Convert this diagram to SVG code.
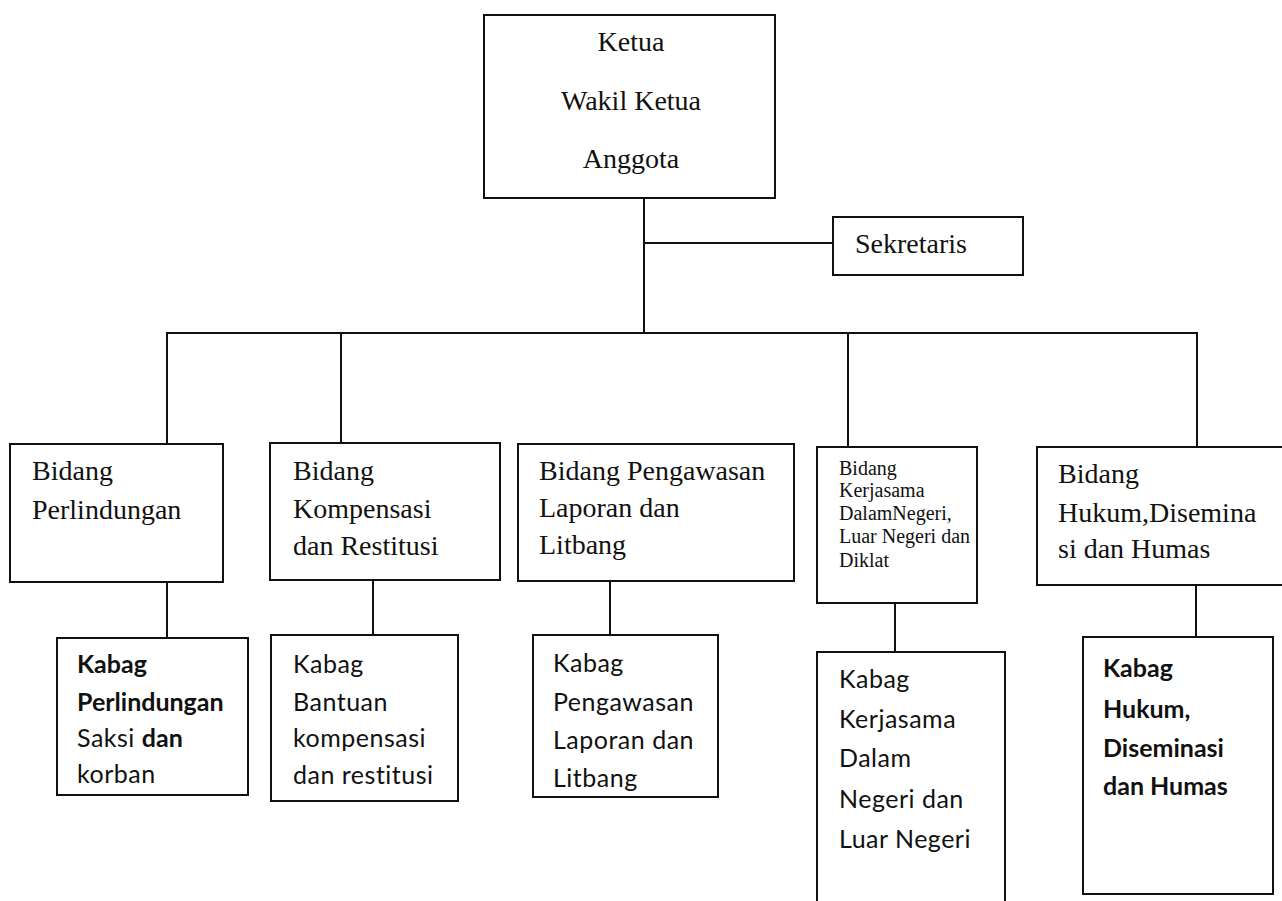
<svg xmlns="http://www.w3.org/2000/svg" width="1282" height="901" viewBox="0 0 1282 901">
<style>
.box{fill:none;stroke:#111;stroke-width:2}
.ln{fill:none;stroke:#111;stroke-width:2}
.t{font-family:"Liberation Serif","Times New Roman",serif;font-size:28px;fill:#111}
.ts{font-family:"Liberation Serif","Times New Roman",serif;font-size:20px;fill:#111}
.k{font-family:Lato,"Open Sans",sans-serif;font-size:25px;letter-spacing:0.5px;fill:#111}
.b{font-weight:bold;letter-spacing:0}
</style>
<rect width="1282" height="901" fill="#fff"/>
<g id="connectors">
<path class="ln" d="M644 198 V333"/>
<path class="ln" d="M644 243 H833"/>
<path class="ln" d="M167 445 V333 H1197 V447"/>
<path class="ln" d="M341 333 V443"/>
<path class="ln" d="M848 333 V447"/>
<path class="ln" d="M167 582 V638"/>
<path class="ln" d="M373 580 V635"/>
<path class="ln" d="M610 581 V635"/>
<path class="ln" d="M895 603 V652"/>
<path class="ln" d="M1196 585 V637"/>
</g>
<g id="ketua">
<rect class="box" x="484" y="15" width="291" height="183"/>
<text class="t" x="631" y="51" text-anchor="middle">Ketua</text>
<text class="t" x="631" y="110" text-anchor="middle">Wakil Ketua</text>
<text class="t" x="631" y="168" text-anchor="middle">Anggota</text>
</g>
<g id="sekretaris">
<rect class="box" x="833" y="217" width="190" height="58"/>
<text class="t" x="855" y="253">Sekretaris</text>
</g>
<g id="bidang-perlindungan">
<rect class="box" x="10" y="444" width="213" height="138"/>
<text class="t" x="32" y="480">Bidang</text>
<text class="t" x="32" y="519">Perlindungan</text>
</g>
<g id="bidang-kompensasi">
<rect class="box" x="270" y="443" width="230" height="137"/>
<text class="t" x="293" y="480">Bidang</text>
<text class="t" x="293" y="518">Kompensasi</text>
<text class="t" x="293" y="555">dan Restitusi</text>
</g>
<g id="bidang-pengawasan">
<rect class="box" x="518" y="444" width="276" height="137"/>
<text class="t" x="539" y="480">Bidang Pengawasan</text>
<text class="t" x="539" y="517">Laporan dan</text>
<text class="t" x="539" y="554">Litbang</text>
</g>
<g id="bidang-kerjasama">
<rect class="box" x="817" y="447" width="160" height="156"/>
<text class="ts" x="839" y="475">Bidang</text>
<text class="ts" x="839" y="497">Kerjasama</text>
<text class="ts" x="839" y="520">DalamNegeri,</text>
<text class="ts" x="839" y="543">Luar Negeri dan</text>
<text class="ts" x="839" y="567">Diklat</text>
</g>
<g id="bidang-hukum">
<rect class="box" x="1037" y="447" width="250" height="138"/>
<text class="t" x="1058" y="483">Bidang</text>
<text class="t" x="1058" y="522">Hukum,Disemina</text>
<text class="t" x="1058" y="558">si dan Humas</text>
</g>
<g id="kabag-perlindungan">
<rect class="box" x="57" y="638" width="191" height="157"/>
<text class="k b" x="77" y="673">Kabag</text>
<text class="k b" x="77" y="711">Perlindungan</text>
<text class="k" x="77" y="747">Saksi <tspan class="b">dan</tspan></text>
<text class="k" x="77" y="783">korban</text>
</g>
<g id="kabag-bantuan">
<rect class="box" x="271" y="635" width="187" height="166"/>
<text class="k" x="293" y="673">Kabag</text>
<text class="k" x="293" y="711">Bantuan</text>
<text class="k" x="293" y="747">kompensasi</text>
<text class="k" x="293" y="784">dan restitusi</text>
</g>
<g id="kabag-pengawasan">
<rect class="box" x="533" y="635" width="185" height="162"/>
<text class="k" x="553" y="672">Kabag</text>
<text class="k" x="553" y="711">Pengawasan</text>
<text class="k" x="553" y="749">Laporan dan</text>
<text class="k" x="553" y="787">Litbang</text>
</g>
<g id="kabag-kerjasama">
<rect class="box" x="817" y="652" width="188" height="260"/>
<text class="k" x="839" y="688">Kabag</text>
<text class="k" x="839" y="728">Kerjasama</text>
<text class="k" x="839" y="767">Dalam</text>
<text class="k" x="839" y="808">Negeri dan</text>
<text class="k" x="839" y="848">Luar Negeri</text>
</g>
<g id="kabag-hukum">
<rect class="box" x="1083" y="637" width="190" height="257"/>
<text class="k b" x="1103" y="677">Kabag</text>
<text class="k b" x="1103" y="718">Hukum,</text>
<text class="k b" x="1103" y="757">Diseminasi</text>
<text class="k b" x="1103" y="795">dan Humas</text>
</g>
</svg>
